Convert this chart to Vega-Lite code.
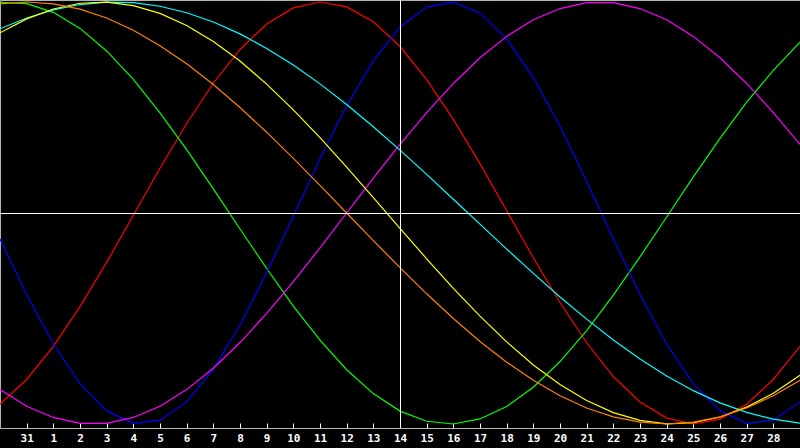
{
  "$schema": "https://vega.github.io/schema/vega-lite/v6.json",
  "description": "Biorhythm curves, 31 Jan to 28 Feb",
  "width": 800,
  "height": 428,
  "autosize": {"type": "none"},
  "padding": {"left": 0, "top": 0, "right": 0, "bottom": 20},
  "background": "#000000",
  "data": {
    "values": [
      {"t": 0, "s": "emotional", "v": -0.906}, {"t": 1, "s": "emotional", "v": -0.789}, {"t": 2, "s": "emotional", "v": -0.632}, {"t": 3, "s": "emotional", "v": -0.444},
      {"t": 4, "s": "emotional", "v": -0.234}, {"t": 5, "s": "emotional", "v": -0.011}, {"t": 6, "s": "emotional", "v": 0.212}, {"t": 7, "s": "emotional", "v": 0.424},
      {"t": 8, "s": "emotional", "v": 0.615}, {"t": 9, "s": "emotional", "v": 0.775}, {"t": 10, "s": "emotional", "v": 0.896}, {"t": 11, "s": "emotional", "v": 0.972},
      {"t": 12, "s": "emotional", "v": 1.0}, {"t": 13, "s": "emotional", "v": 0.977}, {"t": 14, "s": "emotional", "v": 0.906}, {"t": 15, "s": "emotional", "v": 0.789},
      {"t": 16, "s": "emotional", "v": 0.632}, {"t": 17, "s": "emotional", "v": 0.444}, {"t": 18, "s": "emotional", "v": 0.234}, {"t": 19, "s": "emotional", "v": 0.011},
      {"t": 20, "s": "emotional", "v": -0.212}, {"t": 21, "s": "emotional", "v": -0.424}, {"t": 22, "s": "emotional", "v": -0.615}, {"t": 23, "s": "emotional", "v": -0.775},
      {"t": 24, "s": "emotional", "v": -0.896}, {"t": 25, "s": "emotional", "v": -0.972}, {"t": 26, "s": "emotional", "v": -1.0}, {"t": 27, "s": "emotional", "v": -0.977},
      {"t": 28, "s": "emotional", "v": -0.906}, {"t": 29, "s": "emotional", "v": -0.789}, {"t": 30, "s": "emotional", "v": -0.632},

      {"t": 0, "s": "intellectual", "v": 0.998}, {"t": 1, "s": "intellectual", "v": 0.992}, {"t": 2, "s": "intellectual", "v": 0.951}, {"t": 3, "s": "intellectual", "v": 0.875},
      {"t": 4, "s": "intellectual", "v": 0.768}, {"t": 5, "s": "intellectual", "v": 0.633}, {"t": 6, "s": "intellectual", "v": 0.475}, {"t": 7, "s": "intellectual", "v": 0.3},
      {"t": 8, "s": "intellectual", "v": 0.114}, {"t": 9, "s": "intellectual", "v": -0.076}, {"t": 10, "s": "intellectual", "v": -0.263}, {"t": 11, "s": "intellectual", "v": -0.441},
      {"t": 12, "s": "intellectual", "v": -0.603}, {"t": 13, "s": "intellectual", "v": -0.743}, {"t": 14, "s": "intellectual", "v": -0.856}, {"t": 15, "s": "intellectual", "v": -0.939},
      {"t": 16, "s": "intellectual", "v": -0.987}, {"t": 17, "s": "intellectual", "v": -1.0}, {"t": 18, "s": "intellectual", "v": -0.976}, {"t": 19, "s": "intellectual", "v": -0.917},
      {"t": 20, "s": "intellectual", "v": -0.826}, {"t": 21, "s": "intellectual", "v": -0.704}, {"t": 22, "s": "intellectual", "v": -0.557}, {"t": 23, "s": "intellectual", "v": -0.389},
      {"t": 24, "s": "intellectual", "v": -0.208}, {"t": 25, "s": "intellectual", "v": -0.019}, {"t": 26, "s": "intellectual", "v": 0.171}, {"t": 27, "s": "intellectual", "v": 0.354},
      {"t": 28, "s": "intellectual", "v": 0.525}, {"t": 29, "s": "intellectual", "v": 0.676}, {"t": 30, "s": "intellectual", "v": 0.81},

      {"t": 0, "s": "physical", "v": -0.123}, {"t": 1, "s": "physical", "v": -0.386}, {"t": 2, "s": "physical", "v": -0.621}, {"t": 3, "s": "physical", "v": -0.809},
      {"t": 4, "s": "physical", "v": -0.938}, {"t": 5, "s": "physical", "v": -0.997}, {"t": 6, "s": "physical", "v": -0.982}, {"t": 7, "s": "physical", "v": -0.894},
      {"t": 8, "s": "physical", "v": -0.74}, {"t": 9, "s": "physical", "v": -0.531}, {"t": 10, "s": "physical", "v": -0.283}, {"t": 11, "s": "physical", "v": -0.014},
      {"t": 12, "s": "physical", "v": 0.257}, {"t": 13, "s": "physical", "v": 0.508}, {"t": 14, "s": "physical", "v": 0.721}, {"t": 15, "s": "physical", "v": 0.882},
      {"t": 16, "s": "physical", "v": 0.976}, {"t": 17, "s": "physical", "v": 0.999}, {"t": 18, "s": "physical", "v": 0.947}, {"t": 19, "s": "physical", "v": 0.825},
      {"t": 20, "s": "physical", "v": 0.642}, {"t": 21, "s": "physical", "v": 0.411}, {"t": 22, "s": "physical", "v": 0.15}, {"t": 23, "s": "physical", "v": -0.123},
      {"t": 24, "s": "physical", "v": -0.386}, {"t": 25, "s": "physical", "v": -0.621}, {"t": 26, "s": "physical", "v": -0.809}, {"t": 27, "s": "physical", "v": -0.938},
      {"t": 28, "s": "physical", "v": -0.997}, {"t": 29, "s": "physical", "v": -0.982}, {"t": 30, "s": "physical", "v": -0.894},

      {"t": 0, "s": "intuitive", "v": -0.837}, {"t": 1, "s": "intuitive", "v": -0.916}, {"t": 2, "s": "intuitive", "v": -0.969}, {"t": 3, "s": "intuitive", "v": -0.997},
      {"t": 4, "s": "intuitive", "v": -0.997}, {"t": 5, "s": "intuitive", "v": -0.969}, {"t": 6, "s": "intuitive", "v": -0.916}, {"t": 7, "s": "intuitive", "v": -0.837},
      {"t": 8, "s": "intuitive", "v": -0.736}, {"t": 9, "s": "intuitive", "v": -0.614}, {"t": 10, "s": "intuitive", "v": -0.476}, {"t": 11, "s": "intuitive", "v": -0.325},
      {"t": 12, "s": "intuitive", "v": -0.165}, {"t": 13, "s": "intuitive", "v": 0.0}, {"t": 14, "s": "intuitive", "v": 0.165}, {"t": 15, "s": "intuitive", "v": 0.325},
      {"t": 16, "s": "intuitive", "v": 0.476}, {"t": 17, "s": "intuitive", "v": 0.614}, {"t": 18, "s": "intuitive", "v": 0.736}, {"t": 19, "s": "intuitive", "v": 0.837},
      {"t": 20, "s": "intuitive", "v": 0.916}, {"t": 21, "s": "intuitive", "v": 0.969}, {"t": 22, "s": "intuitive", "v": 0.997}, {"t": 23, "s": "intuitive", "v": 0.997},
      {"t": 24, "s": "intuitive", "v": 0.969}, {"t": 25, "s": "intuitive", "v": 0.916}, {"t": 26, "s": "intuitive", "v": 0.837}, {"t": 27, "s": "intuitive", "v": 0.736},
      {"t": 28, "s": "intuitive", "v": 0.614}, {"t": 29, "s": "intuitive", "v": 0.476}, {"t": 30, "s": "intuitive", "v": 0.325},

      {"t": 0, "s": "spiritual", "v": 0.873}, {"t": 1, "s": "spiritual", "v": 0.924}, {"t": 2, "s": "spiritual", "v": 0.963}, {"t": 3, "s": "spiritual", "v": 0.988},
      {"t": 4, "s": "spiritual", "v": 0.999}, {"t": 5, "s": "spiritual", "v": 0.997}, {"t": 6, "s": "spiritual", "v": 0.98}, {"t": 7, "s": "spiritual", "v": 0.949},
      {"t": 8, "s": "spiritual", "v": 0.905}, {"t": 9, "s": "spiritual", "v": 0.849}, {"t": 10, "s": "spiritual", "v": 0.78}, {"t": 11, "s": "spiritual", "v": 0.701},
      {"t": 12, "s": "spiritual", "v": 0.612}, {"t": 13, "s": "spiritual", "v": 0.514}, {"t": 14, "s": "spiritual", "v": 0.409}, {"t": 15, "s": "spiritual", "v": 0.298},
      {"t": 16, "s": "spiritual", "v": 0.183}, {"t": 17, "s": "spiritual", "v": 0.065}, {"t": 18, "s": "spiritual", "v": -0.053}, {"t": 19, "s": "spiritual", "v": -0.171},
      {"t": 20, "s": "spiritual", "v": -0.286}, {"t": 21, "s": "spiritual", "v": -0.398}, {"t": 22, "s": "spiritual", "v": -0.503}, {"t": 23, "s": "spiritual", "v": -0.602},
      {"t": 24, "s": "spiritual", "v": -0.692}, {"t": 25, "s": "spiritual", "v": -0.773}, {"t": 26, "s": "spiritual", "v": -0.842}, {"t": 27, "s": "spiritual", "v": -0.9},
      {"t": 28, "s": "spiritual", "v": -0.945}, {"t": 29, "s": "spiritual", "v": -0.977}, {"t": 30, "s": "spiritual", "v": -0.996},

      {"t": 0, "s": "aesthetic", "v": 0.854}, {"t": 1, "s": "aesthetic", "v": 0.92}, {"t": 2, "s": "aesthetic", "v": 0.967}, {"t": 3, "s": "aesthetic", "v": 0.994},
      {"t": 4, "s": "aesthetic", "v": 0.999}, {"t": 5, "s": "aesthetic", "v": 0.983}, {"t": 6, "s": "aesthetic", "v": 0.946}, {"t": 7, "s": "aesthetic", "v": 0.889},
      {"t": 8, "s": "aesthetic", "v": 0.813}, {"t": 9, "s": "aesthetic", "v": 0.72}, {"t": 10, "s": "aesthetic", "v": 0.611}, {"t": 11, "s": "aesthetic", "v": 0.489},
      {"t": 12, "s": "aesthetic", "v": 0.357}, {"t": 13, "s": "aesthetic", "v": 0.217}, {"t": 14, "s": "aesthetic", "v": 0.073}, {"t": 15, "s": "aesthetic", "v": -0.073},
      {"t": 16, "s": "aesthetic", "v": -0.217}, {"t": 17, "s": "aesthetic", "v": -0.357}, {"t": 18, "s": "aesthetic", "v": -0.489}, {"t": 19, "s": "aesthetic", "v": -0.611},
      {"t": 20, "s": "aesthetic", "v": -0.72}, {"t": 21, "s": "aesthetic", "v": -0.813}, {"t": 22, "s": "aesthetic", "v": -0.889}, {"t": 23, "s": "aesthetic", "v": -0.946},
      {"t": 24, "s": "aesthetic", "v": -0.983}, {"t": 25, "s": "aesthetic", "v": -0.999}, {"t": 26, "s": "aesthetic", "v": -0.994}, {"t": 27, "s": "aesthetic", "v": -0.967},
      {"t": 28, "s": "aesthetic", "v": -0.92}, {"t": 29, "s": "aesthetic", "v": -0.854}, {"t": 30, "s": "aesthetic", "v": -0.769},

      {"t": 0, "s": "awareness", "v": 0.991}, {"t": 1, "s": "awareness", "v": 1.0}, {"t": 2, "s": "awareness", "v": 0.991}, {"t": 3, "s": "awareness", "v": 0.966},
      {"t": 4, "s": "awareness", "v": 0.924}, {"t": 5, "s": "awareness", "v": 0.866}, {"t": 6, "s": "awareness", "v": 0.793}, {"t": 7, "s": "awareness", "v": 0.707},
      {"t": 8, "s": "awareness", "v": 0.609}, {"t": 9, "s": "awareness", "v": 0.5}, {"t": 10, "s": "awareness", "v": 0.383}, {"t": 11, "s": "awareness", "v": 0.259},
      {"t": 12, "s": "awareness", "v": 0.131}, {"t": 13, "s": "awareness", "v": 0.0}, {"t": 14, "s": "awareness", "v": -0.131}, {"t": 15, "s": "awareness", "v": -0.259},
      {"t": 16, "s": "awareness", "v": -0.383}, {"t": 17, "s": "awareness", "v": -0.5}, {"t": 18, "s": "awareness", "v": -0.609}, {"t": 19, "s": "awareness", "v": -0.707},
      {"t": 20, "s": "awareness", "v": -0.793}, {"t": 21, "s": "awareness", "v": -0.866}, {"t": 22, "s": "awareness", "v": -0.924}, {"t": 23, "s": "awareness", "v": -0.966},
      {"t": 24, "s": "awareness", "v": -0.991}, {"t": 25, "s": "awareness", "v": -1.0}, {"t": 26, "s": "awareness", "v": -0.991}, {"t": 27, "s": "awareness", "v": -0.966},
      {"t": 28, "s": "awareness", "v": -0.924}, {"t": 29, "s": "awareness", "v": -0.866}, {"t": 30, "s": "awareness", "v": -0.793}
    ]
  },
  "layer": [
    {
      "mark": {"type": "line", "strokeWidth": 1.2, "clip": true},
      "encoding": {
        "x": {
          "field": "t",
          "type": "quantitative",
          "title": null,
          "scale": {"domain": [0, 30], "nice": false, "zero": false},
          "axis": {
            "values": [1, 2, 3, 4, 5, 6, 7, 8, 9, 10, 11, 12, 13, 14, 15, 16, 17, 18, 19, 20, 21, 22, 23, 24, 25, 26, 27, 28, 29],
            "tickCount": 40,
            "labelExpr": "datum.value == 1 ? '31' : '' + (datum.value - 1)",
            "grid": false,
            "domainColor": "#b4b4b4",
            "tickColor": "#ffffff",
            "tickSize": -5,
            "labelColor": "#ffffff",
            "labelFont": "DejaVu Sans Mono",
            "labelFontWeight": "bold",
            "labelFontSize": 11,
            "labelPadding": 9,
            "labelFlush": false,
            "labelOverlap": false,
            "labelBound": false
          }
        },
        "y": {
          "field": "v",
          "type": "quantitative",
          "axis": null,
          "scale": {"domain": [-1.019, 1.0095], "nice": false, "zero": false}
        },
        "color": {
          "field": "s",
          "type": "nominal",
          "legend": null,
          "scale": {
            "domain": ["emotional", "intellectual", "physical", "intuitive", "spiritual", "aesthetic", "awareness"],
            "range": ["#ff0000", "#00ff00", "#0000ff", "#ff00ff", "#00ffff", "#ffff00", "#ff8000"]
          }
        }
      }
    },
    {
      "mark": {"type": "rule", "color": "#ffffff", "strokeWidth": 1},
      "encoding": {"x": {"datum": 15.019, "type": "quantitative", "title": null}}
    },
    {
      "mark": {"type": "rule", "color": "#ffffff", "strokeWidth": 1},
      "encoding": {"y": {"datum": -0.0024, "type": "quantitative", "title": null}}
    }
  ],
  "config": {
    "view": {"stroke": "#b4b4b4", "strokeWidth": 1},
    "axis": {"labelOverlap": false}
  }
}
